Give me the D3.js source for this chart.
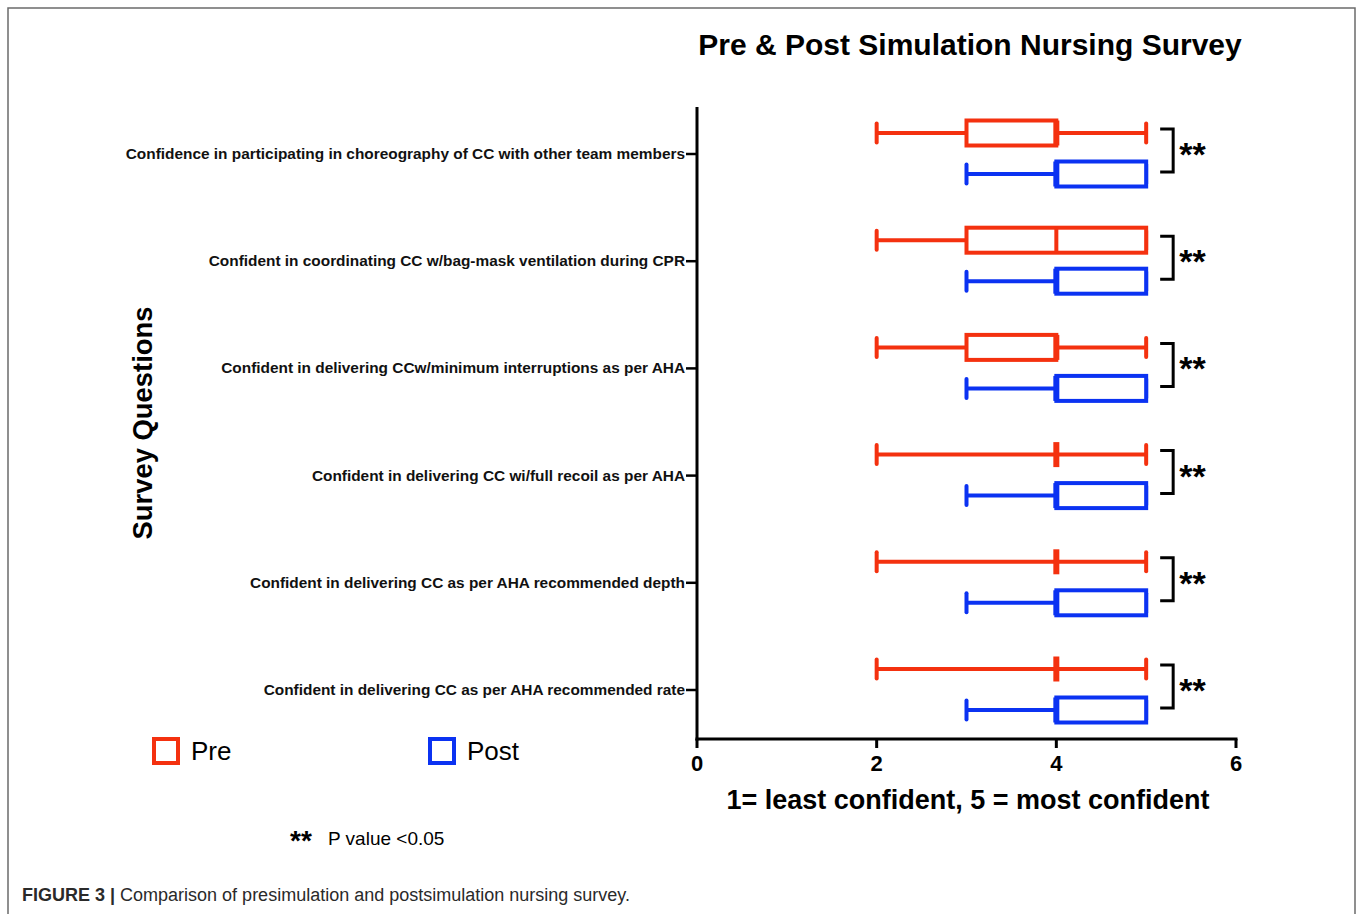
<!DOCTYPE html>
<html>
<head>
<meta charset="utf-8">
<script src="https://cdn.jsdelivr.net/npm/d3@7"></script>
<style>
  body { margin: 0; background: #fff; }
  text { font-family: "Liberation Sans", Arial, sans-serif; }
</style>
</head>
<body>
<svg id="chart" width="1358" height="914"></svg>
<script>
// survey questions, top to bottom
const questions = [
    "Confidence in participating in choreography of CC with other team members",
    "Confident in coordinating CC w/bag-mask ventilation during CPR",
    "Confident in delivering CCw/minimum interruptions as per AHA",
    "Confident in delivering CC wi/full recoil as per AHA",
    "Confident in delivering CC as per AHA recommended depth",
    "Confident in delivering CC as per AHA recommended rate"
];
// [min, q1, median, q3, max]
const preStats = [
    [2, 3, 4, 4, 5],
    [2, 3, 4, 5, 5],
    [2, 3, 4, 4, 5],
    [2, 4, 4, 4, 5],
    [2, 4, 4, 4, 5],
    [2, 4, 4, 4, 5]
];
const postStats = [
    [3, 4, 4, 5, 5],
    [3, 4, 4, 5, 5],
    [3, 4, 4, 5, 5],
    [3, 4, 4, 5, 5],
    [3, 4, 4, 5, 5],
    [3, 4, 4, 5, 5]
];
const significance = ["**", "**", "**", "**", "**", "**"];
const xTicks = [0, 2, 4, 6];

const RED = "#f4310f";
const BLUE = "#0b32f2";

const svg = d3.select("#chart");

// figure frame
svg.append("path")
    .attr("d", "M8,914 V8 H1355 V914")
    .attr("fill", "none")
    .attr("stroke", "#6b6b6b")
    .attr("stroke-width", 1.5);

const x = d3.scaleLinear().domain([0, 6]).range([697, 1236]);
const y = d3.scalePoint().domain(questions).range([154, 690]);

const axisTop = 107, axisBottom = 739;

// y axis
const yAxis = svg.append("g");
yAxis.append("line")
    .attr("x1", x(0)).attr("x2", x(0))
    .attr("y1", axisTop).attr("y2", axisBottom + 1.5)
    .attr("stroke", "#000").attr("stroke-width", 3);
questions.forEach(q => {
    yAxis.append("line")
        .attr("x1", x(0) - 11).attr("x2", x(0))
        .attr("y1", y(q)).attr("y2", y(q))
        .attr("stroke", "#000").attr("stroke-width", 2.5);
    yAxis.append("text")
        .attr("x", x(0) - 12)
        .attr("y", y(q) + 5)
        .attr("text-anchor", "end")
        .attr("font-size", 15.4)
        .attr("font-weight", "bold")
        .attr("fill", "#111")
        .text(q);
});

// x axis
const xAxis = svg.append("g");
xAxis.append("line")
    .attr("x1", x(0) - 1.5).attr("x2", x(6) + 1.5)
    .attr("y1", axisBottom).attr("y2", axisBottom)
    .attr("stroke", "#000").attr("stroke-width", 3);
xTicks.forEach(t => {
    xAxis.append("line")
        .attr("x1", x(t)).attr("x2", x(t))
        .attr("y1", axisBottom).attr("y2", axisBottom + 9)
        .attr("stroke", "#000").attr("stroke-width", 3);
    xAxis.append("text")
        .attr("x", x(t))
        .attr("y", axisBottom + 32)
        .attr("text-anchor", "middle")
        .attr("font-size", 22)
        .attr("font-weight", "bold")
        .text(t);
});

// box plots
const boxH = 25, capH = 19;
function drawBox(stats, q, offset, color) {
    const cy = y(q) + offset;
    const [mn, q1, md, q3, mx] = stats;
    const g = svg.append("g")
        .attr("stroke", color)
        .attr("stroke-width", 4)
        .attr("fill", "none");
    g.append("line").attr("x1", x(mn)).attr("x2", x(q1)).attr("y1", cy).attr("y2", cy);
    g.append("line").attr("x1", x(q3)).attr("x2", x(mx)).attr("y1", cy).attr("y2", cy);
    g.append("line").attr("x1", x(mn)).attr("x2", x(mn))
        .attr("y1", cy - capH / 2).attr("y2", cy + capH / 2).attr("stroke-linecap", "round");
    g.append("line").attr("x1", x(mx)).attr("x2", x(mx))
        .attr("y1", cy - capH / 2).attr("y2", cy + capH / 2).attr("stroke-linecap", "round");
    g.append("rect")
        .attr("x", x(q1)).attr("y", cy - boxH / 2)
        .attr("width", x(q3) - x(q1)).attr("height", boxH)
        .attr("fill", "#fff");
    g.append("line").attr("x1", x(md)).attr("x2", x(md))
        .attr("y1", cy - boxH / 2).attr("y2", cy + boxH / 2)
        .attr("stroke-width", x(md) === x(q1) || x(md) === x(q3) ? 6 : 4);
}

questions.forEach((q, i) => {
    drawBox(preStats[i], q, -21, RED);
    drawBox(postStats[i], q, 20, BLUE);

    // significance bracket
    const bx = x(5) + 27;
    const y1 = y(q) - 25, y2 = y(q) + 18;
    svg.append("path")
        .attr("d", `M${bx - 13},${y1} H${bx} V${y2} H${bx - 13}`)
        .attr("fill", "none")
        .attr("stroke", "#000")
        .attr("stroke-width", 3);
    svg.append("text")
        .attr("x", bx + 6)
        .attr("y", y(q) + 12)
        .attr("font-size", 34)
        .attr("font-weight", "bold")
        .text(significance[i]);
});

// titles
svg.append("text")
    .attr("x", 970).attr("y", 55)
    .attr("text-anchor", "middle")
    .attr("font-size", 30)
    .attr("font-weight", "bold")
    .text("Pre & Post Simulation Nursing Survey");

svg.append("text")
    .attr("transform", "translate(152,423) rotate(-90)")
    .attr("text-anchor", "middle")
    .attr("font-size", 27.4)
    .attr("font-weight", "bold")
    .text("Survey Questions");

svg.append("text")
    .attr("x", 968).attr("y", 809)
    .attr("text-anchor", "middle")
    .attr("font-size", 27)
    .attr("font-weight", "bold")
    .text("1= least confident, 5 = most confident");

// legend
const legend = [
    {label: "Pre", color: RED, x: 152},
    {label: "Post", color: BLUE, x: 428}
];
legend.forEach(l => {
    svg.append("rect")
        .attr("x", l.x + 2).attr("y", 739)
        .attr("width", 24).attr("height", 24)
        .attr("fill", "none")
        .attr("stroke", l.color)
        .attr("stroke-width", 4);
    svg.append("text")
        .attr("x", l.x + 39).attr("y", 760)
        .attr("font-size", 26)
        .text(l.label);
});

svg.append("text")
    .attr("x", 290).attr("y", 850)
    .attr("font-size", 28)
    .attr("font-weight", "bold")
    .text("**");
svg.append("text")
    .attr("x", 328).attr("y", 845)
    .attr("font-size", 19)
    .text("P value <0.05");

// caption
const cap = svg.append("text")
    .attr("x", 22).attr("y", 901)
    .attr("font-size", 18)
    .attr("fill", "#2a2a2a");
cap.append("tspan").attr("font-weight", "bold").text("FIGURE 3 | ");
cap.append("tspan").text("Comparison of presimulation and postsimulation nursing survey.");
</script>
</body>
</html>
